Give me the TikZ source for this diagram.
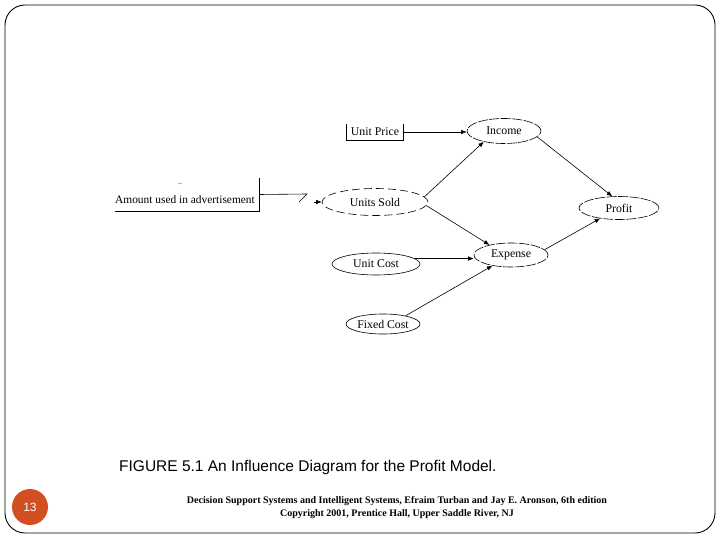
\documentclass[tikz,border=0pt]{standalone}
\usepackage{fontspec}
\setmainfont{Liberation Serif}
\newfontfamily\capfont{Liberation Sans}
\usetikzlibrary{shapes.geometric,arrows.meta}
\definecolor{pgnum}{HTML}{D24F22}
\tikzset{
  ell/.style={ellipse,draw,line width=0.6pt,inner sep=0pt,font=\fontsize{11.8}{13}\selectfont},
  dsh/.style={dash pattern=on 8pt off 4pt},
  sdsh/.style={dash pattern=on 10pt off 1.5pt},
  arr/.style={-{Latex[length=5.5pt,width=4.5pt]},line width=0.6pt},
  lbl/.style={inner sep=0pt,font=\fontsize{11.8}{13}\selectfont},
}
\begin{document}
\begin{tikzpicture}[x=1pt,y=-1pt]
\useasboundingbox (0,0) rectangle (720,540);
\draw[line width=0.9pt,rounded corners=20pt] (5,5) rectangle (715,533);
% nodes
\node[inner sep=0pt,minimum width=144pt,minimum height=33pt] (am) at (187,194.5) {};
\node[lbl,font=\fontsize{11.4}{13}\selectfont] (amtxt) at (185,200) {Amount used in advertisement};
\node[font=\fontsize{8}{8}\selectfont,inner sep=0pt] (dots) at (180,184) {..};
\node[lbl,minimum width=56pt,minimum height=16pt] (up) at (375,132) {Unit Price};
\node[ell,sdsh,minimum width=74pt,minimum height=25pt] (inc) at (504,131) {Income};
\node[ell,dsh,minimum width=106pt,minimum height=27pt] (us) at (375,202) {Units Sold};
\node[ell,sdsh,minimum width=74pt,minimum height=24pt] (exp) at (511,255) {Expense};
\node[ell,sdsh,minimum width=80pt,minimum height=23pt] (prof) at (619,208) {Profit};
\node[ell,minimum width=88pt,minimum height=22pt] (uc) at (376,264) {Unit Cost};
\node[ell,minimum width=74pt,minimum height=20pt] (fc) at (383,324) {Fixed Cost};
% open boxes
\draw[line width=0.7pt] (am.south west) -- (am.south east) -- (am.north east);
\draw[line width=0.7pt] (up.north west) -- (up.south west) -- (up.south east) -- (up.north east);
% advertisement connector
\coordinate (k1) at (307,194);
\coordinate (k2) at (299,202);
\coordinate (k3) at (314,202);
\draw[line width=0.6pt] (am.east) -- (k1) -- (k2);
\draw[arr] (k3) -- (us.west);
% arrows
\draw[arr] (up.east) -- (up.east -| inc.west);
\draw[arr] (us.6) -- (inc.208);
\draw[arr] (us.-4) -- (exp.155);
\draw[arr] (inc.-10) -- (prof.120);
\draw[arr] (exp.9) -- (prof.209);
\draw[arr] (uc.8) -- (uc.8 -| exp.west);
\draw[arr] (fc.20) -- (exp.210);
% caption
\node[anchor=west,inner sep=0pt,font=\capfont\fontsize{15.5}{17}\selectfont] (cap) at (119,467) {FIGURE 5.1 An Influence Diagram for the Profit Model.};
% page number
\node[circle,fill=pgnum,minimum size=36pt,inner sep=0pt,text=white,font=\capfont\fontsize{12}{13}\selectfont] (pg) at (30,507) {13};
% footer
\node[inner sep=0pt,font=\bfseries\fontsize{10}{11}\selectfont] (f1) at (397,501) {Decision Support Systems and Intelligent Systems, Efraim Turban and Jay E. Aronson, 6th edition};
\node[inner sep=0pt,font=\bfseries\fontsize{10}{11}\selectfont] (f2) at (397,514) {Copyright 2001, Prentice Hall, Upper Saddle River, NJ};
\end{tikzpicture}
\end{document}
